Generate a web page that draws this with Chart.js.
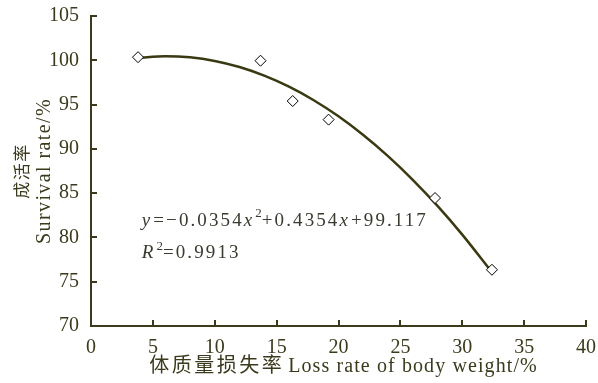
<!DOCTYPE html>
<html>
<head>
<meta charset="utf-8">
<script src="https://cdn.jsdelivr.net/npm/chart.js@4/dist/chart.umd.min.js"></script>
<style>
html,body{margin:0;padding:0;background:#fff;}
#wrap{width:598px;height:383px;position:relative;}
</style>
</head>
<body>
<div id="wrap"><canvas id="c" width="598" height="383"></canvas></div>
<script>
// Observed data points (loss rate %, survival rate %)
const lossRate = [3.8, 13.7, 16.3, 19.2, 27.8, 32.4];
const survival = [100.35, 99.95, 95.4, 93.3, 84.45, 76.35];
// Fitted curve
const curveX = [3.8, 6, 8, 10, 12, 14, 16, 18, 20, 22, 24, 26, 28, 30, 32.3];
const curveY = [100.26, 100.45, 100.33, 99.93, 99.24, 98.27, 97.02, 95.49, 93.67, 91.56, 89.18, 86.51, 83.56, 80.32, 76.25];
const xTicks = [0, 5, 10, 15, 20, 25, 30, 35, 40];
const yTicks = [70, 75, 80, 85, 90, 95, 100, 105];
const xTitleCn = '体质量损失率';
const xTitleEn = 'Loss rate of body weight/%';
const yTitleCn = '成活率';
const yTitleEn = 'Survival rate/%';
const eqLine1 = [['y','i'],['=−0.0354',''],['x','i'],['2','s'],['+0.4354',''],['x','i'],['+99.117','']];
const eqLine2 = [['R','i'],['2','s'],['=0.9913','']];

const INK = '#3b3a1c';
const SERIF = '"Liberation Serif", "Noto Sans CJK SC", serif';

const innerTicks = {
  id: 'innerTicks',
  afterDraw(chart) {
    const {ctx, scales: {x, y}, chartArea: a} = chart;
    ctx.save();
    ctx.strokeStyle = INK;
    ctx.lineWidth = 2;
    ctx.beginPath();
    xTicks.forEach(v => {
      const px = Math.round(x.getPixelForValue(v));
      ctx.moveTo(px, a.bottom);
      ctx.lineTo(px, a.bottom - 6);
    });
    yTicks.forEach(v => {
      const py = Math.round(y.getPixelForValue(v));
      ctx.moveTo(a.left, py);
      ctx.lineTo(a.left + 6, py);
    });
    ctx.stroke();
    ctx.restore();
  }
};

function spacedWidth(ctx, t, sp) {
  ctx.letterSpacing = sp + 'px';
  return ctx.measureText(t).width;
}

const axisTitles = {
  id: 'axisTitles',
  afterDraw(chart) {
    const {ctx, chartArea: a} = chart;
    ctx.save();
    ctx.fillStyle = INK;
    ctx.textBaseline = 'middle';
    ctx.textAlign = 'left';
    // x title
    ctx.font = '20px ' + SERIF;
    const wCn = spacedWidth(ctx, xTitleCn, 2.5);
    const wEn = spacedWidth(ctx, xTitleEn, 1.1);
    const gap = 4;
    let x0 = (a.left + a.right) / 2 - (wCn + gap + wEn) / 2 + 5;
    ctx.letterSpacing = '2.5px';
    ctx.fillText(xTitleCn, x0, 367);
    ctx.letterSpacing = '1.1px';
    ctx.fillText(xTitleEn, x0 + wCn + gap, 367);
    // y title (rotated)
    const cy = (a.top + a.bottom) / 2;
    ctx.translate(0, cy);
    ctx.rotate(-Math.PI / 2);
    ctx.textAlign = 'center';
    ctx.font = '17px ' + SERIF;
    ctx.letterSpacing = '1.5px';
    ctx.fillText(yTitleCn, 0, 24);
    ctx.font = '20px ' + SERIF;
    ctx.letterSpacing = '1.4px';
    ctx.fillText(yTitleEn, 0, 45);
    ctx.restore();
  }
};

function drawRich(ctx, segs, x0, yMid) {
  let cx = x0;
  segs.forEach(([t, st]) => {
    if (st === 's') {
      ctx.font = '13px ' + SERIF;
      ctx.letterSpacing = '0px';
      ctx.fillText(t, cx, yMid - 7);
    } else {
      ctx.font = (st === 'i' ? 'italic ' : '') + '19px ' + SERIF;
      ctx.letterSpacing = '2.1px';
      ctx.fillText(t, cx, yMid);
    }
    cx += ctx.measureText(t).width + (st === 'i' ? 1 : 0);
  });
}

const equation = {
  id: 'equation',
  afterDatasetsDraw(chart) {
    const {ctx, scales: {x, y}} = chart;
    ctx.save();
    ctx.fillStyle = '#3a3a30';
    ctx.textBaseline = 'middle';
    ctx.textAlign = 'left';
    drawRich(ctx, eqLine1, x.getPixelForValue(4.1), y.getPixelForValue(81.9));
    drawRich(ctx, eqLine2, x.getPixelForValue(4.1), y.getPixelForValue(78.2));
    ctx.restore();
  }
};

new Chart(document.getElementById('c'), {
  type: 'scatter',
  data: {
    datasets: [
      {
        type: 'line',
        data: curveX.map((v, i) => ({x: v, y: curveY[i]})),
        borderColor: '#3a3912',
        borderWidth: 2.5,
        pointRadius: 0,
        fill: false,
        cubicInterpolationMode: 'monotone',
        order: 2
      },
      {
        data: lossRate.map((v, i) => ({x: v, y: survival[i]})),
        pointStyle: 'rectRot',
        pointRadius: 5.5,
        pointBackgroundColor: '#ffffff',
        pointBorderColor: '#000000',
        pointBorderWidth: 1,
        order: 1
      }
    ]
  },
  options: {
    responsive: false,
    animation: false,
    devicePixelRatio: 1,
    layout: {padding: {top: 16, right: 7, left: 0, bottom: 0}},
    plugins: {legend: {display: false}, tooltip: {enabled: false}},
    scales: {
      x: {
        type: 'linear',
        min: 0, max: 40,
        afterBuildTicks: s => { s.ticks = xTicks.map(v => ({value: v})); },
        afterFit: s => { s.height = 57; },
        grid: {display: false},
        border: {display: true, color: INK, width: 2},
        ticks: {color: INK, font: {family: SERIF, size: 20}, padding: 2, maxRotation: 0},
        title: {display: false}
      },
      y: {
        type: 'linear',
        min: 70, max: 105,
        afterBuildTicks: s => { s.ticks = yTicks.map(v => ({value: v})); },
        afterFit: s => { s.width = 91; },
        grid: {display: false},
        border: {display: true, color: INK, width: 2},
        ticks: {color: INK, font: {family: SERIF, size: 20}, padding: 4},
        title: {display: false}
      }
    }
  },
  plugins: [innerTicks, axisTitles, equation]
});
</script>
</body>
</html>
